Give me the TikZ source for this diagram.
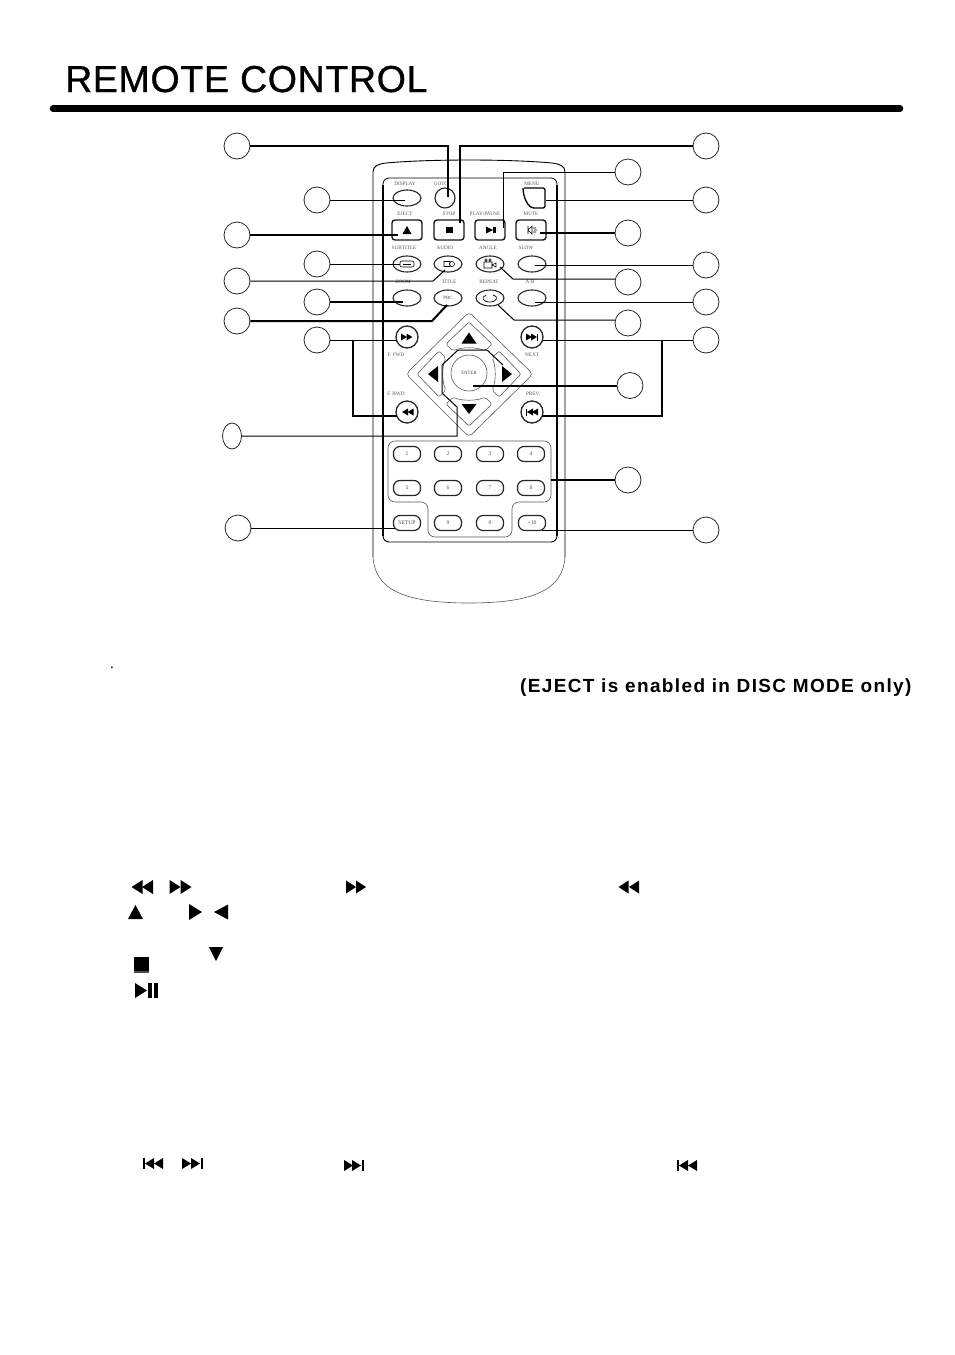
\documentclass[tikz,border=0pt]{standalone}
\usepackage{fontspec}
\setmainfont{Liberation Serif}
\newfontfamily\headfont[LetterSpace=1.8,BoldFont={Liberation Sans},BoldFeatures={FakeBold=0.8}]{Liberation Sans}
\newfontfamily\notefont[LetterSpace=7.2,BoldFont={Liberation Sans Bold}]{Liberation Sans}
\usetikzlibrary{shapes.geometric}

\tikzset{
  callout/.style={circle,draw=black!85,line width=0.8pt,minimum size=26pt,inner sep=0pt},
  thinlead/.style={line width=1pt},
  thicklead/.style={line width=2pt},
  caption/.style={text=black!65,font=\fontsize{5.2}{6}\selectfont,inner sep=0pt},
  oval/.style={ellipse,draw=black!85,line width=1.1pt,minimum width=28pt,minimum height=16pt,inner sep=0pt,
    font=\fontsize{4.8}{5}\selectfont,text=black!70},
  pill/.style={draw=black!85,line width=1.2pt,rounded corners=6.5pt,minimum width=27pt,minimum height=15pt,inner sep=0pt,
    font=\fontsize{5.6}{6}\selectfont,text=black!70},
  squarekey/.style={draw=black!90,line width=1.4pt,rounded corners=3pt,minimum width=30pt,minimum height=20pt,inner sep=0pt},
  roundkey/.style={circle,draw=black!85,line width=1.3pt,minimum size=22pt,inner sep=0pt},
  grayline/.style={draw=black!65,line width=0.6pt}
}
\newcommand{\tri}[5]{\fill[shift={(#1,#2)},rotate=#3] (#4,0) -- (-#4,#5) -- (-#4,-#5) -- cycle;}

\begin{document}
\begin{tikzpicture}[x=1pt,y=-1pt]
  \useasboundingbox (0,0) rectangle (954,1355);

  % heading
  \node[anchor=base west,inner sep=0pt,font=\headfont\bfseries\fontsize{37.5}{40}\selectfont] (heading) at (65,92) {REMOTE CONTROL};
  \draw[line width=6.5pt,line cap=round] (53,108.7) -- (900,108.7);

  % remote body
  \draw[line width=0.9pt] (373,557) -- (373,172) .. controls (373,166) and (378,164) .. (386,163)
    .. controls (430,159) and (508,159) .. (552,163) .. controls (560,164) and (565,166) .. (565,172) -- (565,557);
  \draw[grayline] (373,557) .. controls (375,590) and (405,603) .. (469,603) .. controls (533,603) and (563,590) .. (565,557);
  \draw[line width=0.8pt,rounded corners=6pt] (383,190) -- (383,178) -- (557,178) -- (557,190);
  \draw[line width=0.9pt,rounded corners=6pt] (383,530) -- (383,542) -- (557,542) -- (557,530);
  \draw[line width=2pt] (383,185) -- (383,536);
  \draw[line width=2pt] (557,185) -- (557,536);

  % captions
  \foreach \x/\y/\txt in {405/184/DISPLAY,441/184/GOTO,532/184/MENU,
    405/214/EJECT,449/214/STOP,485/214/{PLAY/PAUSE},531/214/MUTE,
    404/248/SUBTITLE,445/248/AUDIO,488/248/ANGLE,526/248/SLOW,
    403/282/ZOOM,449/282/TITLE,489/282/REPEAT,530/282/A-B,
    396/355/F. FWD,532/355/NEXT,396/394/F. BWD,533/394/PREV.}
    \node[caption] at (\x,\y) {\txt};

  % upper keys
  \node[oval] (k_display) at (407,198) {};
  \node[circle,draw=black!85,line width=1.1pt,minimum size=20pt,inner sep=0pt] (k_goto) at (445,198) {};
  \draw[line width=1.3pt,rounded corners=2pt] (524,188) -- (545,188) -- (545,208) -- (536,208)
    .. controls (528,208) and (523,197) .. (523,188);
  \node[squarekey] (k_eject) at (407,230) {};
  \node[squarekey] (k_stop) at (449,230) {};
  \node[squarekey] (k_play) at (490,230) {};
  \node[squarekey] (k_mute) at (531,230) {};
  \node[oval] (k_subtitle) at (407,264) {};
  \node[oval] (k_audio) at (448,264) {};
  \node[oval] (k_angle) at (490,264) {};
  \node[oval] (k_slow) at (532,264) {};
  \node[oval] (k_zoom) at (407,298) {};
  \node[oval] (k_title) at (448,298) {PBC};
  \node[oval] (k_repeat) at (490,298) {};
  \node[oval] (k_ab) at (532,298) {};
  \node[roundkey] (k_fwd) at (407,337) {};
  \node[roundkey] (k_next) at (532,337) {};
  \node[roundkey] (k_bwd) at (407,412) {};
  \node[roundkey] (k_prev) at (532,412) {};

  % marks on the keys
  \tri{407}{230}{90}{4}{4.5}
  \fill (446,227) rectangle (453,233);
  \tri{489.5}{230}{0}{3.5}{3.5}
  \fill (493,227) rectangle (496,233);
  \draw[line width=0.6pt] (528,226) -- (528,234) (528,230) -- (532,226) -- (532,234) -- cycle (534,230) -- (537,230) (533,228) -- (536,228) (533,232) -- (536,232);
  \draw[line width=0.6pt,rounded corners=2pt] (400,261) rectangle (414,267);
  \draw[line width=0.6pt] (403,264) -- (411,264);
  \draw[line width=0.6pt] (444,261.5) rectangle (450,266.5) (452,264) circle (2.5pt);
  \draw[line width=0.6pt] (484,262) rectangle (492,268) (486,260) circle (1.2pt) (490,260) circle (1.2pt) (492,265) -- (496,263) -- (496,267) -- cycle;
  \draw[line width=0.7pt] (486,295.5) .. controls (480,297) and (483,302) .. (490,302) .. controls (497,302) and (499,296) .. (493,295);
  \tri{404}{337}{0}{3}{3.5}
  \tri{409.5}{337}{0}{3}{3.5}
  \tri{529}{337}{0}{3}{3.5}
  \tri{534}{337}{0}{3}{3.5}
  \fill (537,333.5) rectangle (538,340.5);
  \tri{405}{412}{180}{3}{3.5}
  \tri{410.5}{412}{180}{3}{3.5}
  \tri{530}{412}{180}{3}{3.5}
  \tri{535}{412}{180}{3}{3.5}
  \fill (526,408.5) rectangle (527,415.5);

  % cursor pad
  \draw[grayline,rounded corners=4pt] (469,312) -- (533,374) -- (469,437) -- (406,374) -- cycle;
  \foreach \ang in {0,90,180,270}
    \draw[grayline,shift={(469,374)},rotate=\ang,rounded corners=2pt] (0,-52) -- (23,-30) -- (16,-23)
      .. controls (8,-27) and (-8,-27) .. (-16,-23) -- (-23,-30) -- cycle;
  \node[circle,grayline,minimum size=36pt,inner sep=0pt,font=\fontsize{4.8}{5}\selectfont,text=black!70] (k_enter) at (469,373) {ENTER};
  \tri{469}{338}{90}{5.5}{7.5}
  \tri{469}{409}{-90}{5}{7.5}
  \tri{433}{374}{180}{5}{8}
  \tri{507}{374}{0}{5}{8}

  % number keys
  \draw[grayline,rounded corners=7pt] (388,441) -- (551,441) -- (551,502) -- (512,502) -- (512,537) -- (428,537) -- (428,502) -- (388,502) -- cycle;
  \node[pill] (k_1) at (407,454) {1};
  \node[pill] (k_2) at (448,454) {2};
  \node[pill] (k_3) at (490,454) {3};
  \node[pill] (k_4) at (531,454) {4};
  \node[pill] (k_5) at (407,488) {5};
  \node[pill] (k_6) at (448,488) {6};
  \node[pill] (k_7) at (490,488) {7};
  \node[pill] (k_8) at (531,488) {8};
  \node[pill] (k_setup) at (407,523) {SETUP};
  \node[pill] (k_9) at (448,523) {9};
  \node[pill] (k_0) at (490,523) {0};
  \node[pill] (k_plus) at (532,523) {+10};

  % numbered circles, left and right
  \node[callout] (n_goto) at (237,146) {};
  \node[callout] (n_display) at (317,200) {};
  \node[callout] (n_eject) at (237,235) {};
  \node[callout] (n_subtitle) at (317,264) {};
  \node[callout] (n_audio) at (237,281) {};
  \node[callout] (n_zoom) at (317,302) {};
  \node[callout] (n_title) at (237,321) {};
  \node[callout] (n_fwd) at (317,340) {};
  \node[ellipse,draw=black!85,line width=0.8pt,minimum width=19pt,minimum height=26pt,inner sep=0pt] (n_cursor) at (232,436) {};
  \node[callout] (n_setup) at (238,528) {};
  \node[callout] (n_stop) at (706,146) {};
  \node[callout] (n_play) at (628,172) {};
  \node[callout] (n_menu) at (706,200) {};
  \node[callout] (n_mute) at (628,233) {};
  \node[callout] (n_slow) at (706,265) {};
  \node[callout] (n_angle) at (628,282) {};
  \node[callout] (n_ab) at (706,302) {};
  \node[callout] (n_repeat) at (628,323) {};
  \node[callout] (n_next) at (706,340) {};
  \node[callout] (n_enter) at (630,385.5) {};
  \node[callout] (n_digits) at (628,480) {};
  \node[callout] (n_plus) at (706,530) {};

  % ends of the leader lines
  \foreach \name/\x/\y in {a_goto/448/197,a_stop/460/223,a_play/503/228,a_display/405/200,a_eject/398/235,
    a_subtitle/400/264,a_audio/445/270,a_audiob/433/281,a_zoom/403/302,a_title/447/305,a_titleb/432/321,
    a_fwd/397/340,a_bwd/397/416,a_menu/546/200,a_mute/540/233,a_slow/535/265,a_angle/500/267,a_angleb/513/279,
    a_anglec/615.4/279,a_ab/535/302,a_repeat/498/305,a_repeatb/514/320,a_repeatc/615.4/320,a_next/543/340,
    a_prev/542/416,a_enter/473/385.5,a_digits/551/480,a_setup/395/528,a_plus/542/530,
    a_c1/457/436,a_c2/457/407,a_c3/442/393,a_c4/442/365,a_c5/458/350,a_c6/487/350,a_c7/503/365,
    j_left/353/340,j_right/662/340}
    \coordinate (\name) at (\x,\y);

  % leader lines
  \draw[thicklead] (n_goto.east) -| (a_goto);
  \draw[thicklead] (n_stop.west) -| (a_stop);
  \draw[thinlead] (n_play.west) -| (a_play);
  \draw[thinlead] (n_display.east) -- (a_display);
  \draw[thicklead] (n_eject.east) -- (a_eject);
  \draw[thinlead] (n_subtitle.east) -- (a_subtitle);
  \draw[thinlead] (n_audio.east) -- (a_audiob) -- (a_audio);
  \draw[thicklead] (n_zoom.east) -- (a_zoom);
  \draw[thicklead] (n_title.east) -- (a_titleb) -- (a_title);
  \draw[thinlead] (n_fwd.east) -- (a_fwd);
  \draw[thicklead] (j_left) |- (a_bwd);
  \draw[thinlead] (n_cursor.east) -- (a_c1) -- (a_c2) -- (a_c3) -- (a_c4) -- (a_c5) -- (a_c6) -- (a_c7);
  \draw[thinlead] (n_setup.east) -- (a_setup);
  \draw[thinlead] (n_menu.west) -- (a_menu);
  \draw[thicklead] (n_mute.west) -- (a_mute);
  \draw[thinlead] (n_slow.west) -- (a_slow);
  \draw[thinlead] (a_anglec) -- (a_angleb) -- (a_angle);
  \draw[thinlead] (n_ab.west) -- (a_ab);
  \draw[thinlead] (a_repeatc) -- (a_repeatb) -- (a_repeat);
  \draw[thinlead] (n_next.west) -- (a_next);
  \draw[thicklead] (j_right) |- (a_prev);
  \draw[thicklead] (n_enter.west) -- (a_enter);
  \draw[thicklead] (n_digits.west) -- (a_digits);
  \draw[thinlead] (n_plus.west) -- (a_plus);

  % page text and marks
  \node[anchor=base,inner sep=0pt,font=\fontsize{15}{16}\selectfont] (dot) at (112,668) {.};
  \node[anchor=base west,inner sep=0pt,font=\notefont\bfseries\fontsize{19}{20}\selectfont] (note) at (520,692) {(EJECT is enabled in DISC MODE only)};
  \tri{137}{887}{180}{5.5}{7}
  \tri{147.5}{887}{180}{5.5}{7}
  \tri{175}{887}{0}{5.5}{7}
  \tri{186}{887}{0}{5.5}{7}
  \tri{351}{887}{0}{5}{6.5}
  \tri{361}{887}{0}{5}{6.5}
  \tri{623.5}{887}{180}{5}{6.5}
  \tri{634}{887}{180}{5}{6.5}
  \tri{135.5}{912}{90}{7}{7.5}
  \tri{195.5}{912}{0}{6.5}{8}
  \tri{221}{912}{180}{7}{7.5}
  \tri{216}{954}{-90}{7}{7}
  \fill (134,957) rectangle (149,971);
  \fill[black!70] (134,971) rectangle (149,973);
  \tri{141}{990.5}{0}{6}{7.5}
  \fill (148,983) rectangle (152,998);
  \fill (153.5,983) rectangle (158,998);
  \fill (143,1158) rectangle (145,1169);
  \tri{149.5}{1163.5}{180}{4.5}{5.5}
  \tri{158.5}{1163.5}{180}{4.5}{5.5}
  \tri{186.5}{1163.5}{0}{4.5}{5.5}
  \tri{195.5}{1163.5}{0}{4.5}{5.5}
  \fill (201,1158) rectangle (203,1169);
  \tri{348.5}{1165.5}{0}{4.5}{5.5}
  \tri{356.5}{1165.5}{0}{4.5}{5.5}
  \fill (362,1160) rectangle (364,1171);
  \fill (677,1160) rectangle (679,1171);
  \tri{683.5}{1165.5}{180}{4.5}{5.5}
  \tri{692.5}{1165.5}{180}{4.5}{5.5}
\end{tikzpicture}
\end{document}
